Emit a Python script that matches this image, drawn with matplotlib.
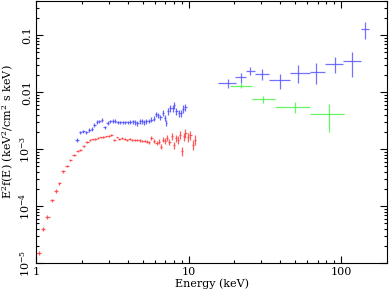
import numpy as np
import matplotlib
matplotlib.use("Agg")
import matplotlib.pyplot as plt
from matplotlib.ticker import FixedLocator, NullFormatter, LogLocator

plt.rcParams['font.family'] = 'DejaVu Serif'
plt.rcParams['mathtext.fontset'] = 'dejavuserif'

# low energy instrument (red), keV / keV^2 cm^-2 s^-1 keV^-1
red_e = [1.04, 1.11, 1.19, 1.27, 1.35, 1.42, 1.51, 1.59, 1.68, 1.78, 1.88, 1.95,
         2.05, 2.17, 2.26, 2.35, 2.45, 2.555, 2.657, 2.767, 2.883, 2.998, 3.122,
         3.252, 3.403, 3.523, 3.669, 3.816, 3.958, 4.116, 4.268, 4.439, 4.603,
         4.786, 4.963, 5.161, 5.351, 5.54, 5.711, 5.913, 6.224, 6.376, 6.573,
         6.774, 7.055, 7.272, 7.495, 7.806, 8.045, 8.292, 8.546, 8.849, 9.08,
         9.30, 9.54, 9.88, 10.29, 10.65, 10.98]
red_f = [1.5e-5, 3.9e-5, 6.5e-5, 1.27e-4, 1.85e-4, 2.5e-4, 4.1e-4, 5.1e-4, 6.4e-4,
         7.85e-4, 9.3e-4, 9.6e-4, 1.13e-3, 1.36e-3, 1.44e-3, 1.48e-3, 1.52e-3,
         1.56e-3, 1.60e-3, 1.62e-3, 1.67e-3, 1.71e-3, 1.76e-3, 1.46e-3, 1.60e-3,
         1.48e-3, 1.56e-3, 1.50e-3, 1.46e-3, 1.48e-3, 1.46e-3, 1.46e-3, 1.44e-3,
         1.42e-3, 1.40e-3, 1.38e-3, 1.34e-3, 1.31e-3, 1.56e-3, 1.40e-3, 1.27e-3,
         1.36e-3, 1.11e-3, 1.46e-3, 1.40e-3, 1.56e-3, 1.36e-3, 1.67e-3, 1.19e-3,
         1.56e-3, 1.46e-3, 1.78e-3, 9.3e-4, 1.67e-3, 1.91e-3, 1.60e-3, 1.78e-3,
         1.19e-3, 1.46e-3]
# relative (1 sigma) errors of red points
red_rel = [0.09, 0.08, 0.08, 0.07, 0.07, 0.06, 0.06, 0.05, 0.05, 0.05, 0.04, 0.04,
           0.04, 0.04, 0.03, 0.03, 0.03, 0.03, 0.03, 0.03, 0.03, 0.03, 0.04, 0.04,
           0.04, 0.04, 0.04, 0.04, 0.04, 0.04, 0.04, 0.05, 0.05, 0.05, 0.05, 0.05,
           0.06, 0.06, 0.07, 0.07, 0.08, 0.09, 0.10, 0.10, 0.11, 0.12, 0.12, 0.13,
           0.14, 0.15, 0.15, 0.16, 0.17, 0.17, 0.18, 0.18, 0.19, 0.20, 0.20]

# low energy instrument (blue)
blue_e = [1.86, 1.955, 2.046, 2.14, 2.24, 2.333, 2.415, 2.516, 2.604, 2.705, 2.822,
          2.953, 3.075, 3.184, 3.28, 3.434, 3.576, 3.703, 3.857, 3.994, 4.159,
          4.306, 4.486, 4.624, 4.786, 4.963, 5.138, 5.295, 5.483, 5.711, 5.913,
          6.094, 6.32, 6.543, 6.774, 6.982, 7.164, 7.384, 7.61, 7.879, 8.083,
          8.33, 8.624, 8.983, 9.218, 9.544]
blue_f = [1.46e-3, 1.96e-3, 2.05e-3, 1.96e-3, 2.18e-3, 2.27e-3, 2.67e-3, 2.98e-3,
          3.06e-3, 3.23e-3, 2.41e-3, 2.86e-3, 3.06e-3, 3.13e-3, 3.13e-3, 2.94e-3,
          2.94e-3, 2.94e-3, 2.94e-3, 2.94e-3, 2.98e-3, 3.06e-3, 2.94e-3, 2.82e-3,
          3.06e-3, 3.06e-3, 2.94e-3, 3.06e-3, 3.13e-3, 3.27e-3, 3.40e-3, 4.11e-3,
          3.90e-3, 3.60e-3, 4.28e-3, 3.50e-3, 2.86e-3, 4.58e-3, 5.24e-3, 5.24e-3,
          5.84e-3, 4.70e-3, 4.28e-3, 4.28e-3, 5.09e-3, 5.40e-3]
blue_rel = [0.07, 0.07, 0.07, 0.07, 0.07, 0.07, 0.07, 0.07, 0.07, 0.07, 0.07,
            0.07, 0.07, 0.07, 0.07, 0.08, 0.08, 0.08, 0.08, 0.08, 0.08, 0.08,
            0.09, 0.09, 0.09, 0.09, 0.09, 0.10, 0.10, 0.10, 0.10, 0.11, 0.11,
            0.11, 0.12, 0.12, 0.12, 0.13, 0.13, 0.13, 0.14, 0.14, 0.14, 0.15,
            0.15, 0.15]

# hard X-ray instrument (blue)
hx_e = [18.07, 21.9, 25.35, 30.4, 39.45, 52.3, 68.7, 90.5, 118.3, 142.3]
hx_elo = [15.7, 20.3, 23.9, 27.3, 33.9, 45.9, 62.1, 78.7, 102.6, 134.0]
hx_ehi = [20.5, 23.9, 27.3, 33.9, 45.9, 62.1, 78.7, 102.6, 135.5, 151.2]
hx_f = [0.01422, 0.01811, 0.02366, 0.0207, 0.01625, 0.0213, 0.0227, 0.031, 0.035, 0.126]
hx_flo = [0.01161, 0.01456, 0.01987, 0.01625, 0.01114, 0.0142, 0.0138, 0.0213, 0.01853, 0.084]
hx_fhi = [0.0169, 0.0213, 0.0278, 0.02535, 0.0207, 0.0298, 0.0319, 0.0406, 0.0509, 0.171]

# hard X-ray instrument (green)
gr_e = [22.1, 30.7, 49.5, 82.7]
gr_elo = [18.55, 25.97, 36.6, 62.7]
gr_ehi = [25.97, 36.6, 62.7, 104.2]
gr_f = [0.0129, 0.00754, 0.00552, 0.00406]
gr_flo = [0.01161, 0.00634, 0.00434, 0.00201]
gr_fhi = [0.01422, 0.00861, 0.00659, 0.00615]


def bin_edges(e):
    e = np.asarray(e)
    mid = np.sqrt(e[1:] * e[:-1])
    lo = np.concatenate([[e[0] ** 2 / mid[0]], mid])
    hi = np.concatenate([mid, [e[-1] ** 2 / mid[-1]]])
    return e - lo, hi - e


fig = plt.figure(figsize=(3.91, 2.91), dpi=100)
ax = fig.add_axes([0.092, 0.096, 0.898, 0.901])

kw = dict(fmt='none', lw=0.9, capsize=0)

r = np.asarray(red_f)
ax.errorbar(red_e, r, xerr=bin_edges(red_e), yerr=r * np.asarray(red_rel),
            ecolor=(1.0, 0.25, 0.25), alpha=0.85, **kw)
b = np.asarray(blue_f)
ax.errorbar(blue_e, b, xerr=bin_edges(blue_e), yerr=b * np.asarray(blue_rel),
            ecolor=(0.3, 0.3, 1.0), alpha=0.85, **kw)

he = np.asarray(hx_e)
hf = np.asarray(hx_f)
ax.errorbar(he, hf, xerr=[he - np.asarray(hx_elo), np.asarray(hx_ehi) - he],
            yerr=[hf - np.asarray(hx_flo), np.asarray(hx_fhi) - hf],
            ecolor=(0.35, 0.35, 1.0), alpha=0.85, **kw)
ge = np.asarray(gr_e)
gf = np.asarray(gr_f)
ax.errorbar(ge, gf, xerr=[ge - np.asarray(gr_elo), np.asarray(gr_ehi) - ge],
            yerr=[gf - np.asarray(gr_flo), np.asarray(gr_fhi) - gf],
            ecolor=(0.35, 0.95, 0.35), alpha=0.9, **kw)

ax.set_xscale('log')
ax.set_yscale('log')
ax.set_xlim(1, 200)
ax.set_ylim(1e-5, 0.4)

ax.xaxis.set_major_locator(FixedLocator([1, 10, 100]))
ax.set_xticklabels(['1', '10', '100'])
ax.xaxis.set_minor_locator(LogLocator(base=10, subs=np.arange(2, 10)))
ax.xaxis.set_minor_formatter(NullFormatter())

ax.yaxis.set_major_locator(FixedLocator([1e-5, 1e-4, 1e-3, 1e-2, 1e-1]))
ax.set_yticklabels(['$10^{-5}$', '$10^{-4}$', '$10^{-3}$', '0.01', '0.1'],
                   rotation=90, va='center')
ax.yaxis.set_minor_locator(LogLocator(base=10, subs=np.arange(2, 10)))
ax.yaxis.set_minor_formatter(NullFormatter())

ax.tick_params(which='both', direction='in', top=True, right=True,
               labelsize=8, width=0.8)
ax.tick_params(which='major', length=5, pad=3)
ax.tick_params(which='minor', length=2.5)
for s in ax.spines.values():
    s.set_linewidth(0.8)

ax.set_xlabel('Energy (keV)', fontsize=8, labelpad=1)
ax.set_ylabel('E$^2$f(E) (keV$^2$/cm$^2$ s keV)', fontsize=8, labelpad=1)

fig.savefig('out.png', dpi=100)
